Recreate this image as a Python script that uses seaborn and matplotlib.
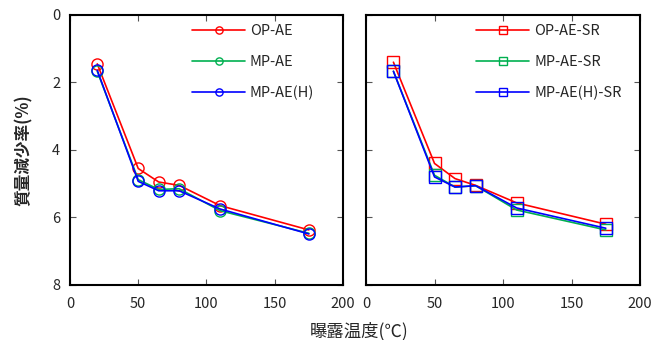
import matplotlib
matplotlib.use("Agg")
import matplotlib.pyplot as plt
import seaborn as sns
import pandas as pd

sns.set_style("ticks")
plt.rcParams['font.family'] = ['Noto Sans CJK JP', 'DejaVu Sans']

temps = [20, 50, 65, 80, 110, 175]

# 質量減少率 (%) — 左: AE 系列
op_ae = [1.45, 4.55, 4.95, 5.05, 5.65, 6.37]
mp_ae = [1.67, 4.88, 5.17, 5.15, 5.8, 6.47]
mp_ae_h = [1.64, 4.93, 5.21, 5.21, 5.75, 6.49]

# 右: AE-SR 系列
op_ae_sr = [1.4, 4.4, 4.85, 5.05, 5.57, 6.2]
mp_ae_sr = [1.67, 4.75, 5.1, 5.06, 5.78, 6.37]
mp_ae_h_sr = [1.67, 4.8, 5.1, 5.06, 5.72, 6.32]

colors = ["#FF0000", "#00B050", "#0000FF"]

left_series = [("OP-AE", op_ae), ("MP-AE", mp_ae), ("MP-AE(H)", mp_ae_h)]
right_series = [("OP-AE-SR", op_ae_sr), ("MP-AE-SR", mp_ae_sr), ("MP-AE(H)-SR", mp_ae_h_sr)]

fig = plt.figure(figsize=(6.62, 3.4), dpi=100)
ax1 = fig.add_axes([0.1057, 0.162, 0.4124, 0.794])
ax2 = fig.add_axes([0.5529, 0.162, 0.4139, 0.794])


def draw(ax, series, marker, msize, leg_x):
    for (name, vals), c in zip(series, colors):
        df = pd.DataFrame({"temp": temps, "loss": vals})
        sns.lineplot(data=df, x="temp", y="loss", ax=ax, color=c, marker=marker,
                     markersize=msize, markerfacecolor="none", markeredgecolor=c,
                     markeredgewidth=1.0, linewidth=1.2, label=name)
    ax.set_xlim(0, 200)
    ax.set_ylim(8, 0)
    ax.set_xticks([0, 50, 100, 150, 200])
    ax.set_yticks([0, 2, 4, 6, 8])
    ax.set_xlabel("")
    ax.set_ylabel("")
    ax.tick_params(direction="in", top=True, right=True, length=4, width=0.8,
                   color="#555555", labelsize=10.5, pad=7)
    ax.tick_params(axis="x", pad=9)
    for s in ax.spines.values():
        s.set_linewidth(1.5)
        s.set_color("black")
    ax.legend(loc="upper left", frameon=False, fontsize=10.5,
              handlelength=3.6, handletextpad=0.35, labelspacing=1.15,
              markerscale=0.65, bbox_to_anchor=(leg_x, 1.015))


draw(ax1, left_series, "o", 8, 0.40)
draw(ax2, right_series, "s", 8, 0.355)
ax2.set_yticklabels([])

ax1.set_ylabel("質量減少率(%)", fontsize=12, fontweight="bold", labelpad=14)
fig.text(0.542, 0.0, "曝露温度(℃)", ha="center", va="bottom", fontsize=12.5)

fig.savefig("out.png", dpi=100)
